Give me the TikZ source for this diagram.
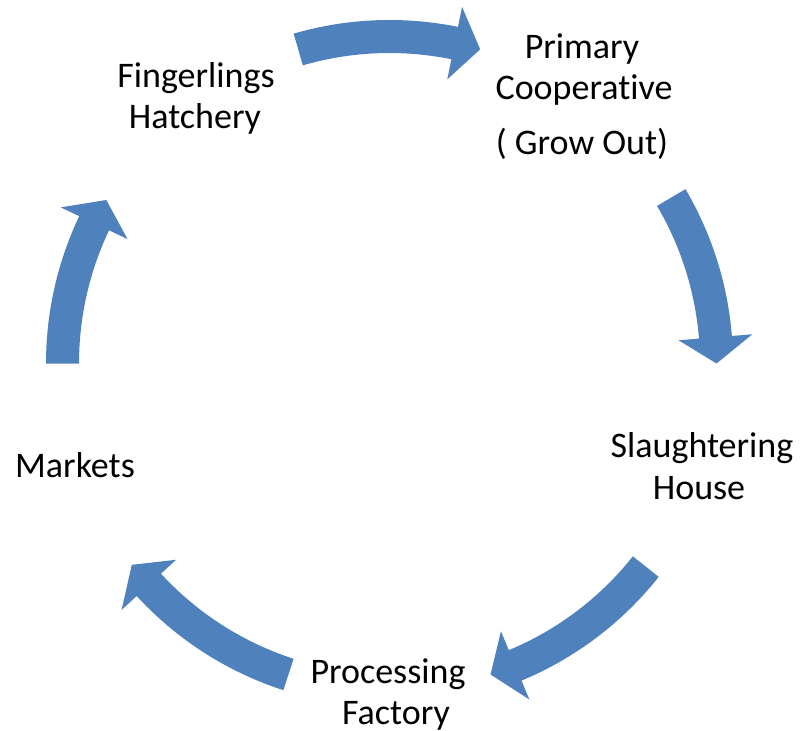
\documentclass[tikz,border=0pt]{standalone}
\usepackage{fontspec}
\setmainfont{Carlito}[RawFeature={-liga}]
\definecolor{arrowblue}{HTML}{4F81BD}
\newcommand{\cyclearrow}[2]{%
  \pgfmathsetmacro{\hb}{#2-4.6}%
  \fill[arrowblue] plot[domain=#1:\hb,samples=40] (\x:343.5)
    -- (\hb:364) -- (#2:327) -- (\hb:290)
    -- plot[domain=\hb:#1,samples=40] (\x:310.5) -- cycle;
}
\begin{document}
\begin{tikzpicture}[x=1pt,y=-1pt,
  lbl/.style={font=\fontsize{36}{43}\selectfont, inner sep=0pt, anchor=base, text=black}]
\useasboundingbox (0,0) rectangle (802,730);
\fill[white] (0,0) rectangle (802,730);
\begin{scope}[shift={(389.5,363.5)}]
  \cyclearrow{-106.2}{-73.9}
  \cyclearrow{-30.5}{0}
  \cyclearrow{38.4}{72}
  \cyclearrow{108}{142}
  \cyclearrow{180}{210}
\end{scope}
\node[lbl] (fing1) at (196,88) {Fingerlings};
\node[lbl] (fing2) at (195,129) {Hatchery};
\node[lbl] (prim1) at (582,59) {Primary};
\node[lbl] (prim2) at (584,100) {Cooperative};
\node[lbl] (prim3) at (582,155) {( Grow Out)};
\node[lbl] (slau1) at (702,457) {Slaughtering};
\node[lbl] (slau2) at (699,499) {House};
\node[lbl] (mark) at (75,477) {Markets};
\node[lbl] (proc1) at (388,683) {Processing};
\node[lbl] (proc2) at (396,724) {Factory};
\end{tikzpicture}
\end{document}
